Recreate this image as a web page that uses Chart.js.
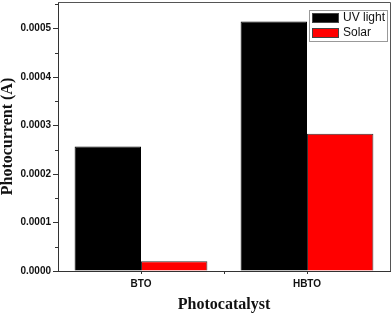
<!DOCTYPE html>
<html>
<head>
<meta charset="utf-8">
<script src="https://cdn.jsdelivr.net/npm/chart.js@4"></script>
<style>
  html, body { margin: 0; padding: 0; background: #fff; }
  #wrap { width: 392px; height: 314px; position: relative; }
</style>
</head>
<body>
<div id="wrap"><canvas id="myChart"></canvas></div>
<script>
let categories = ['BTO', 'HBTO'];
let uvLight = [0.000257, 0.000515];
let solar = [0.00002, 0.000283];
let yTicks = [0, 0.0001, 0.0002, 0.0003, 0.0004, 0.0005];
let yMax = 0.000555;

// minor ticks, middle x tick, box border and the framed legend
let extras = {
    id: 'extras',
    afterDraw(chart) {
        let ctx = chart.ctx;
        let area = chart.chartArea;
        let x = chart.scales.x;
        let y = chart.scales.y;
        ctx.save();
        ctx.strokeStyle = '#333';
        ctx.lineWidth = 1;
        ctx.beginPath();
        for (let i = 0; i < yTicks.length; i++) {
            let py = Math.round(y.getPixelForValue(yTicks[i] + 0.00005)) + 0.5;
            if (py > area.top) {
                ctx.moveTo(area.left - 3, py);
                ctx.lineTo(area.left, py);
            }
        }
        let mid = Math.round((x.getPixelForValue(0) + x.getPixelForValue(1)) / 2) + 0.5;
        ctx.moveTo(mid, area.bottom);
        ctx.lineTo(mid, area.bottom + 3);
        ctx.stroke();

        ctx.strokeStyle = '#555';
        ctx.beginPath();
        ctx.moveTo(area.left, area.top + 0.5);
        ctx.lineTo(area.right + 0.5, area.top + 0.5);
        ctx.lineTo(area.right + 0.5, area.bottom);
        ctx.stroke();

        // legend
        let lx = area.right - 81, ly = area.top + 8;
        ctx.strokeStyle = '#999';
        ctx.strokeRect(lx + 0.5, ly + 0.5, 78, 31);
        ctx.font = '12px Arial, "Liberation Sans", sans-serif';
        ctx.textBaseline = 'middle';
        chart.data.datasets.forEach((ds, i) => {
            let sy = ly + 3 + i * 15;
            ctx.fillStyle = ds.backgroundColor;
            ctx.fillRect(lx + 3, sy, 27, 10);
            ctx.strokeStyle = '#444';
            ctx.strokeRect(lx + 3.5, sy + 0.5, 26, 9);
            ctx.fillStyle = '#111';
            ctx.fillText(ds.label, lx + 34, sy + 5);
        });
        ctx.restore();
    }
};

let mychart = document.getElementById('myChart').getContext('2d');

let chart = new Chart(mychart, {
    type: 'bar',
    data: {
        labels: categories,
        datasets: [{
            label: 'UV light',
            data: uvLight,
            backgroundColor: '#000000',
            borderColor: '#000000',
            borderWidth: 1
        }, {
            label: 'Solar',
            data: solar,
            backgroundColor: '#ff0000',
            borderColor: '#333333',
            borderWidth: 1
        }]
    },
    options: {
        responsive: true,
        maintainAspectRatio: false,
        animation: false,
        layout: { padding: { top: 2, right: 2, left: 0, bottom: 0 } },
        plugins: {
            legend: { display: false },
            tooltip: { enabled: false }
        },
        datasets: {
            bar: { barPercentage: 1.0, categoryPercentage: 0.8 }
        },
        scales: {
            x: {
                offset: true,
                grid: { display: true, drawOnChartArea: false, offset: false, tickLength: 3, color: '#333' },
                border: { display: true, color: '#333' },
                ticks: {
                    color: '#111',
                    padding: 4,
                    font: { family: 'Arial, "Liberation Sans", sans-serif', size: 10, weight: 'bold' }
                },
                title: {
                    display: true,
                    text: 'Photocatalyst',
                    color: '#111',
                    padding: { top: 0, bottom: 1 },
                    font: { family: '"Times New Roman", "Liberation Serif", serif', size: 16, weight: 'bold', lineHeight: 1 }
                },
                afterFit: function (scale) {
                    scale.height = 43;
                    scale.paddingLeft = 0;
                    scale.paddingRight = 0;
                }
            },
            y: {
                min: 0,
                max: yMax,
                grid: { display: true, drawOnChartArea: false, tickLength: 5, color: '#333' },
                border: { display: true, color: '#333' },
                afterBuildTicks: function (scale) {
                    scale.ticks = yTicks.map(v => ({ value: v }));
                },
                ticks: {
                    color: '#111',
                    padding: 2,
                    font: { family: 'Arial, "Liberation Sans", sans-serif', size: 10, weight: 'bold' },
                    callback: function (v) { return v.toFixed(4); }
                },
                title: {
                    display: true,
                    text: 'Photocurrent (A)',
                    color: '#111',
                    padding: 0,
                    font: { family: '"Times New Roman", "Liberation Serif", serif', size: 16, weight: 'bold', lineHeight: 1 }
                },
                afterFit: function (scale) {
                    scale.width = 58;
                    scale.paddingTop = 0;
                    scale.paddingBottom = 0;
                }
            }
        }
    },
    plugins: [extras]
});
</script>
</body>
</html>
